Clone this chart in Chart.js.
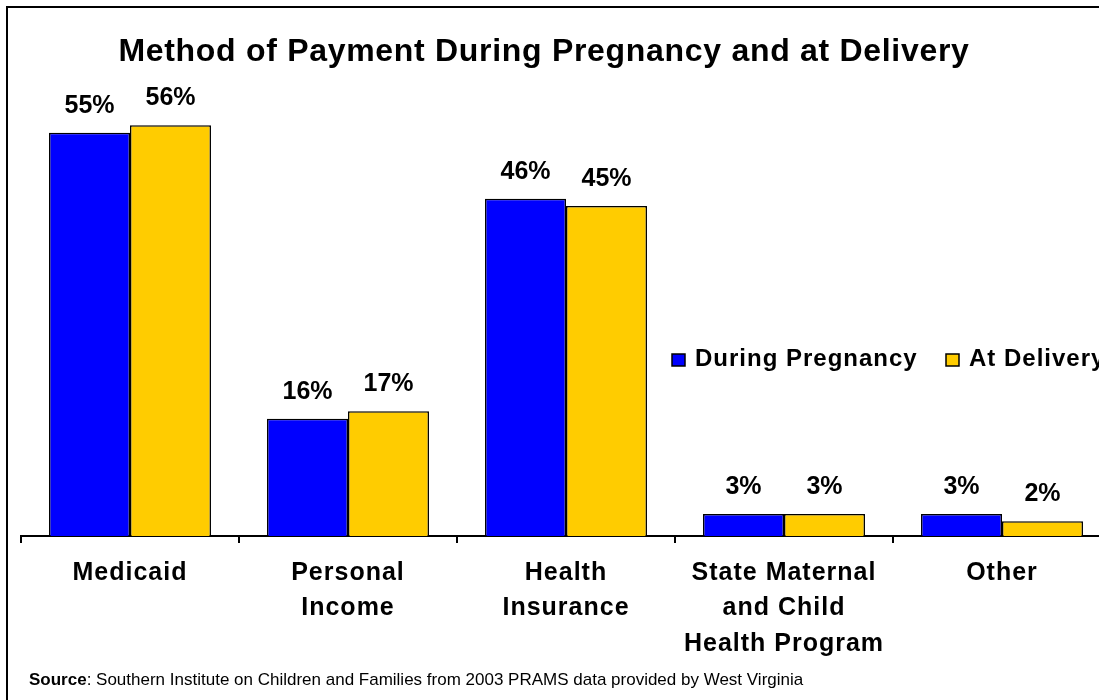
<!DOCTYPE html>
<html>
<head>
<meta charset="utf-8">
<title>Method of Payment</title>
<script src="https://cdn.jsdelivr.net/npm/chart.js@4/dist/chart.umd.min.js"></script>
<style>
  html, body { margin: 0; padding: 0; background: #ffffff; overflow: hidden; }
  #wrap { position: absolute; left: 0; top: 0; width: 1140px; height: 700px; }
</style>
</head>
<body>
<div id="wrap"><canvas id="paymentChart"></canvas></div>
<script>
// categories and percentages for each payment method
var categories = [
    "Medicaid",
    ["Personal", "Income"],
    ["Health", "Insurance"],
    ["State Maternal", "and Child", "Health Program"],
    "Other",
];
var seriesNames = ["During Pregnancy", "At Delivery"];
var duringPregnancy = [55, 16, 46, 3, 3];
var atDelivery = [56, 17, 45, 3, 2];
var seriesColors = ["#0000ff", "#ffcc00"];

var titleText = "Method of Payment During Pregnancy and at Delivery";
var sourceBold = "Source";
var sourceText = ": Southern Institute on Children and Families from 2003 PRAMS data provided by West Virginia";

var fontFamily = '"Liberation Sans", Arial, Helvetica, sans-serif';
Chart.defaults.font.family = fontFamily;
Chart.defaults.color = "#000000";

var paymentCanvas = document.getElementById("paymentChart");

// frame, title, percent labels, legend and source line are drawn here
var decorations = {
    id: "decorations",
    beforeDraw: function (chart) {
        var ctx = chart.ctx;
        ctx.save();
        ctx.fillStyle = "#ffffff";
        ctx.fillRect(0, 0, chart.width, chart.height);
        ctx.restore();
        // wider glyph spacing for the axis labels
        ctx.letterSpacing = "1px";
    },
    afterDatasetsDraw: function (chart) {
        var ctx = chart.ctx;
        ctx.save();
        ctx.letterSpacing = "0px";
        ctx.fillStyle = "#000000";
        ctx.font = "bold 25px " + fontFamily;
        ctx.textAlign = "center";
        ctx.textBaseline = "alphabetic";
        chart.data.datasets.forEach(function (ds, i) {
            var meta = chart.getDatasetMeta(i);
            meta.data.forEach(function (bar, j) {
                ctx.fillText(ds.data[j] + "%", bar.x, bar.y - 20);
            });
        });
        ctx.restore();
    },
    afterDraw: function (chart) {
        var ctx = chart.ctx;
        ctx.save();
        ctx.letterSpacing = "0px";

        // outer frame
        ctx.strokeStyle = "#000000";
        ctx.lineWidth = 2;
        ctx.strokeRect(7, 7, chart.width + 20, chart.height + 20);

        // title
        ctx.fillStyle = "#000000";
        ctx.letterSpacing = "0.7px";
        ctx.font = "bold 32px " + fontFamily;
        ctx.textAlign = "center";
        ctx.textBaseline = "alphabetic";
        ctx.fillText(titleText, 544, 61);

        // legend
        ctx.letterSpacing = "1px";
        ctx.font = "bold 24px " + fontFamily;
        ctx.textAlign = "left";
        var legendX = [672, 946];
        chart.data.datasets.forEach(function (ds, i) {
            ctx.fillStyle = ds.backgroundColor;
            ctx.fillRect(legendX[i], 354, 13, 12);
            ctx.lineWidth = 1.5;
            ctx.strokeStyle = "#000000";
            ctx.strokeRect(legendX[i], 354, 13, 12);
            ctx.fillStyle = "#000000";
            ctx.fillText(ds.label, legendX[i] + 23, 366);
        });

        // source line
        ctx.letterSpacing = "0px";
        ctx.font = "bold 17px " + fontFamily;
        ctx.fillText(sourceBold, 29, 685);
        var w = ctx.measureText(sourceBold).width;
        ctx.font = "17px " + fontFamily;
        ctx.fillText(sourceText, 29 + w, 685);
        ctx.restore();
    }
};

var paymentChart = new Chart(paymentCanvas, {
    type: "bar",
    data: {
        labels: categories,
        datasets: [
            {
                label: seriesNames[0],
                data: duringPregnancy,
                backgroundColor: seriesColors[0],
                borderColor: "#000000",
                borderWidth: 1.5,
            },
            {
                label: seriesNames[1],
                data: atDelivery,
                backgroundColor: seriesColors[1],
                borderColor: "#000000",
                borderWidth: 1.5,
            }
        ]
    },
    options: {
        responsive: true,
        maintainAspectRatio: false,
        animation: false,
        events: [],
        layout: {
            padding: { left: 21, right: 29, top: 96, bottom: 0 }
        },
        datasets: {
            bar: {
                categoryPercentage: 0.743,
                barPercentage: 1.0,
            }
        },
        plugins: {
            legend: { display: false },
            title: { display: false },
            tooltip: { enabled: false }
        },
        scales: {
            x: {
                offset: true,
                afterFit: function (scale) {
                    scale.height = 164;
                },
                grid: {
                    offset: true,
                    drawOnChartArea: false,
                    drawTicks: true,
                    tickLength: 7,
                    color: "#000000",
                    lineWidth: 2,
                },
                border: { display: true, color: "#000000", width: 2 },
                ticks: {
                    color: "#000000",
                    padding: 12,
                    maxRotation: 0,
                    autoSkip: false,
                    font: { size: 25, weight: "bold", lineHeight: 1.42 }
                }
            },
            y: {
                display: false,
                min: 0,
                max: 60,
            }
        }
    },
    plugins: [decorations]
});
</script>
</body>
</html>
